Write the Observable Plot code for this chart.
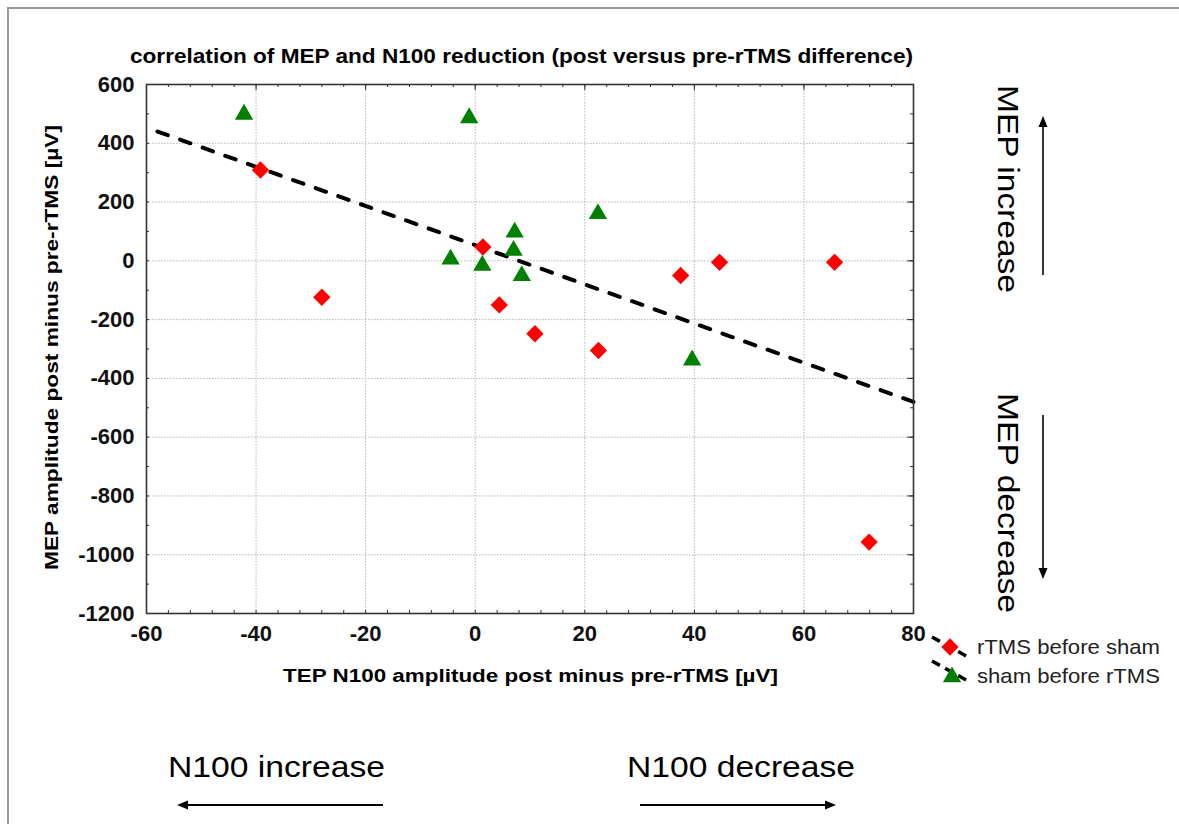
<!DOCTYPE html>
<html>
<head>
<meta charset="utf-8">
<script src="https://cdn.jsdelivr.net/npm/d3@7"></script>
<script src="https://cdn.jsdelivr.net/npm/@observablehq/plot@0.6"></script>
<style>
  html, body { margin: 0; padding: 0; background: #fff; }
  #chart { position: relative; width: 1179px; height: 824px; overflow: hidden; }
  #chart svg g[aria-label$="tick label"] { font-size: 22px !important; font-weight: bold; }
</style>
</head>
<body>
<div id="chart"></div>
<script>
// ---- Data ----
const rtmsX = [-39.2, -28.0, 1.4, 4.4, 10.9, 22.5, 37.5, 44.6, 65.6, 71.9];
const rtmsY = [309, -124, 47, -150, -248, -305, -50, -5, -5, -957];
const shamX = [-42.2, -1.1, -4.5, 1.3, 7.2, 7.0, 8.5, 22.4, 39.6];
const shamY = [505, 493, 12, -9, 104, 42, -44, 167, -331];
const fitX = [-58, 80];
const fitY = [440, -480];
const xTicks = [-60, -40, -20, 0, 20, 40, 60, 80];
const yTicks = [-1200, -1000, -800, -600, -400, -200, 0, 200, 400, 600];
const seriesNames = ["rTMS before sham", "sham before rTMS"];
const titleText = "correlation of MEP and N100 reduction (post versus pre-rTMS difference)";
const xLabel = "TEP N100 amplitude post minus pre-rTMS [µV]";
const yLabel = "MEP amplitude post minus pre-rTMS [µV]";

const rtms = rtmsX.map((x, i) => ({x, y: rtmsY[i]}));
const sham = shamX.map((x, i) => ({x, y: shamY[i]}));
const fit = fitX.map((x, i) => ({x, y: fitY[i]}));

const xDom = [-60, 80], yDom = [-1200, 600];
const xMinor = d3.range(-60, 81, 4);
const yMinor = d3.range(-1200, 601, 100);
const kx = 140 / 767, ky = 1800 / 529; // data units per pixel (for tick lengths)

const gridStyle = {stroke: "#b5b5b5", strokeOpacity: 1, strokeDasharray: "1.5,1.5", strokeWidth: 1};
const tickStyle = {stroke: "#333", strokeWidth: 1};

const chart = Plot.plot({
  width: 1179,
  height: 824,
  marginLeft: 146,
  marginRight: 266,
  marginTop: 84,
  marginBottom: 211,
  x: {domain: xDom},
  y: {domain: yDom},
  style: {fontFamily: "'Liberation Sans', Arial, sans-serif", fontSize: "22px", color: "#000", background: "#fff"},
  marks: [
    Plot.gridX(xTicks, gridStyle),
    Plot.gridY(yTicks, gridStyle),
    // minor ticks inside the frame
    Plot.ruleX(xMinor, {x: d => d, y1: yDom[0], y2: yDom[0] + 3 * ky, ...tickStyle}),
    Plot.ruleX(xMinor, {x: d => d, y1: yDom[1], y2: yDom[1] - 3 * ky, ...tickStyle}),
    Plot.ruleY(yMinor, {y: d => d, x1: xDom[0], x2: xDom[0] + 3 * kx, ...tickStyle}),
    Plot.ruleY(yMinor, {y: d => d, x1: xDom[1], x2: xDom[1] - 3 * kx, ...tickStyle}),
    // major ticks inside the frame
    Plot.ruleX(xTicks, {x: d => d, y1: yDom[1], y2: yDom[1] - 6 * ky, ...tickStyle}),
    Plot.ruleY(yTicks, {y: d => d, x1: xDom[1], x2: xDom[1] - 6 * kx, ...tickStyle}),
    Plot.line(fit, {x: "x", y: "y", stroke: "#000", strokeWidth: 4, strokeDasharray: "11,13"}),
    Plot.dot(rtms, {x: "x", y: "y", symbol: "diamond2", r: 7.8, fill: "#ff0000", stroke: null}),
    Plot.dot(sham, {x: "x", y: "y", symbol: "triangle", r: 6.8, fill: "#008000", stroke: null, dy: 2}),
    Plot.frame({stroke: "#333", strokeWidth: 1.6}),
    Plot.axisX(xTicks, {tickSize: 0, tickPadding: 12, label: null, tickFormat: d => String(d), fill: "#111", fontWeight: "bold", fontSize: 22}),
    Plot.axisY(yTicks, {tickSize: 0, tickPadding: 12, label: null, tickFormat: d => String(d), fill: "#111", fontWeight: "bold", fontSize: 22})
  ]
});

document.getElementById("chart").appendChild(chart);

// ---- Annotations (titles, legend, direction arrows) ----
const svg = d3.select(chart);
const font = "'Liberation Sans', Arial, sans-serif";
const g = svg.append("g").attr("font-family", font).attr("fill", "#000").attr("text-anchor", "start");

// outer border
g.append("path").attr("d", "M8,824V8H1179").attr("fill", "none").attr("stroke", "#9a9a9a").attr("stroke-width", 2);

// title
g.append("text").attr("x", 130).attr("y", 63).attr("font-size", 20).attr("font-weight", "bold")
  .attr("textLength", 783).attr("lengthAdjust", "spacingAndGlyphs").text(titleText);

// axis titles
g.append("text").attr("x", 283).attr("y", 682).attr("font-size", 18).attr("font-weight", "bold")
  .attr("textLength", 495).attr("lengthAdjust", "spacingAndGlyphs").text(xLabel);
g.append("text").attr("transform", "translate(58,570) rotate(-90)").attr("font-size", 18).attr("font-weight", "bold")
  .attr("textLength", 445).attr("lengthAdjust", "spacingAndGlyphs").text(yLabel);

// legend
const leg = g.append("g");
function dashSeg(y0) {
  leg.append("line").attr("x1", 932).attr("y1", y0).attr("x2", 968).attr("y2", y0 + 20)
    .attr("stroke", "#000").attr("stroke-width", 3.5).attr("stroke-dasharray", "9,6");
}
dashSeg(637);
dashSeg(661);
leg.append("path").attr("d", d3.symbol(d3.symbolDiamond2, Math.PI * 7.8 * 7.8)()).attr("transform", "translate(950,647)").attr("fill", "#ff0000");
leg.append("path").attr("d", d3.symbol(d3.symbolTriangle, Math.PI * 6.8 * 6.8)()).attr("transform", "translate(952,677)").attr("fill", "#008000");
leg.append("text").attr("x", 977).attr("y", 654).attr("font-size", 21).attr("fill", "#222")
  .attr("textLength", 183).attr("lengthAdjust", "spacingAndGlyphs").text(seriesNames[0]);
leg.append("text").attr("x", 977).attr("y", 683).attr("font-size", 21).attr("fill", "#222")
  .attr("textLength", 183).attr("lengthAdjust", "spacingAndGlyphs").text(seriesNames[1]);

// direction annotations
function bigText(txt, x, y, len, rot) {
  g.append("text").attr("transform", `translate(${x},${y})` + (rot ? ` rotate(${rot})` : ""))
    .attr("font-size", 30).attr("textLength", len).attr("lengthAdjust", "spacingAndGlyphs").text(txt);
}
bigText("MEP increase", 998, 85, 208, 90);
bigText("MEP decrease", 998, 393, 220, 90);
bigText("N100 increase", 168, 777, 217, 0);
bigText("N100 decrease", 627, 777, 228, 0);

function arrow(x1, y1, x2, y2, w) {
  const a = Math.atan2(y2 - y1, x2 - x1);
  const L = 11, H = 4.5;
  const bx = x2 - L * Math.cos(a), by = y2 - L * Math.sin(a);
  g.append("line").attr("x1", x1).attr("y1", y1).attr("x2", bx).attr("y2", by)
    .attr("stroke", "#000").attr("stroke-width", w);
  const px = -Math.sin(a) * H, py = Math.cos(a) * H;
  g.append("path").attr("d", `M${x2},${y2}L${bx + px},${by + py}L${bx - px},${by - py}Z`).attr("fill", "#000");
}
arrow(1043, 275, 1043, 116, 1.6);
arrow(1043, 415, 1043, 579, 1.6);
arrow(383, 805, 177, 805, 2);
arrow(640, 805, 836, 805, 2);
</script>
</body>
</html>
